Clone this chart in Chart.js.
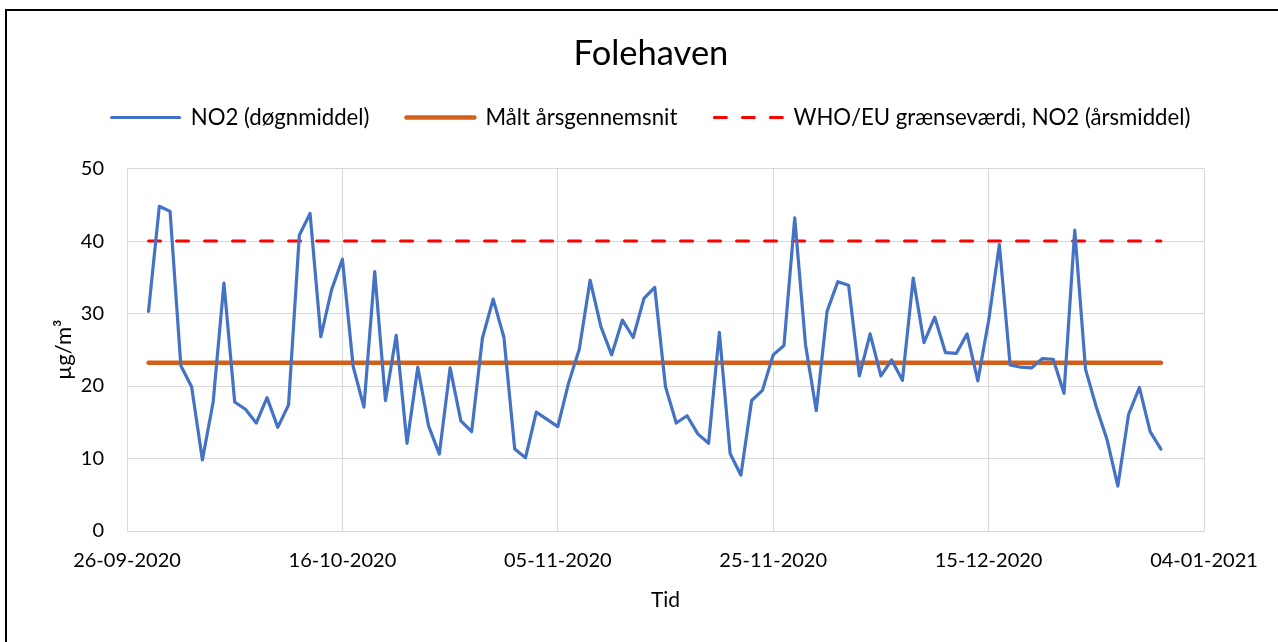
<!DOCTYPE html>
<html>
<head>
<meta charset="utf-8">
<title>Folehaven</title>
<script src="https://cdn.jsdelivr.net/npm/chart.js@4.4.1/dist/chart.umd.min.js"></script>
<style>
  html, body { margin: 0; padding: 0; background: #fff; overflow: hidden; }
  #wrap { position: relative; width: 1278px; height: 642px; }
  #frame {
    position: absolute; left: 5px; top: 9px; width: 1300px; height: 700px;
    border-left: 2px solid #000; border-top: 2px solid #000; pointer-events: none;
  }
</style>
</head>
<body>
<div id="wrap">
  <canvas id="no2Chart" width="1278" height="642"></canvas>
  <div id="frame"></div>
</div>
<script>
// x axis: one category per day, 26-09-2020 .. 04-01-2021, labelled every 20th day
const firstDay = [2020, 8, 26];
const dayCount = 101;
const tickStep = 20;

// daily NO2 means, 28-09-2020 .. 31-12-2020 (µg/m3)
const firstMeasured = 2;
const no2Daily = [
  30.3, 44.8, 44.1, 22.8, 19.9, 9.8, 17.8, 34.2, 17.8, 16.8,
  14.9, 18.4, 14.3, 17.4, 40.8, 43.8, 26.8, 33.3, 37.5, 22.7,
  17.1, 35.8, 18.0, 27.0, 12.1, 22.6, 14.5, 10.6, 22.5, 15.2,
  13.7, 26.6, 32.0, 26.7, 11.3, 10.1, 16.4, 15.4, 14.4, 20.4,
  25.1, 34.6, 28.2, 24.3, 29.1, 26.7, 32.1, 33.6, 19.9, 14.9,
  15.9, 13.4, 12.1, 27.4, 10.7, 7.7, 18.0, 19.4, 24.3, 25.6,
  43.2, 25.7, 16.6, 30.3, 34.4, 33.9, 21.4, 27.2, 21.4, 23.6,
  20.8, 34.9, 26.0, 29.5, 24.6, 24.5, 27.2, 20.7, 29.0, 39.5,
  22.9, 22.6, 22.5, 23.8, 23.7, 19.0, 41.5, 22.3, 17.1, 12.6,
  6.2, 16.1, 19.8, 13.7, 11.3
];
const yearMean = 23.2;
const whoLimit = 40;

const yMin = 0;
const yMax = 50;
const yStep = 10;

function dayLabel(i) {
  const d = new Date(firstDay[0], firstDay[1], firstDay[2] + i);
  const dd = String(d.getDate()).padStart(2, '0');
  const mm = String(d.getMonth() + 1).padStart(2, '0');
  return dd + '-' + mm + '-' + d.getFullYear();
}

const categories = Array.from({ length: dayCount }, (_, i) => dayLabel(i));
const no2Series = categories.map((_, i) => {
  const k = i - firstMeasured;
  return k >= 0 && k < no2Daily.length ? no2Daily[k] : null;
});
const meanSeries = no2Series.map(v => v === null ? null : yearMean);
const whoSeries = no2Series.map(v => v === null ? null : whoLimit);

Chart.defaults.font.family = 'Lato, "Open Sans", sans-serif';
Chart.defaults.color = '#000';

// leave room between the legend and the plot
const legendGap = {
  id: 'legendGap',
  beforeInit(chart) {
    const fit = chart.legend.fit;
    chart.legend.fit = function () {
      fit.bind(chart.legend)();
      this.height += 30;
    };
  }
};

// keep the dash pattern of each line in its legend sample
function legendLabels(chart) {
  return Chart.defaults.plugins.legend.labels.generateLabels(chart).map(item => {
    const ds = chart.data.datasets[item.datasetIndex];
    item.lineDash = ds.borderDash || [];
    item.lineCap = ds.borderCapStyle || 'butt';
    item.lineWidth = ds.borderWidth;
    return item;
  });
}

const ctx = document.getElementById('no2Chart').getContext('2d');
new Chart(ctx, {
  type: 'line',
  data: {
    labels: categories,
    datasets: [
      {
        label: 'NO2 (døgnmiddel)',
        data: no2Series,
        borderColor: '#4472C4',
        backgroundColor: '#4472C4',
        borderWidth: 3.2,
        borderCapStyle: 'round',
        borderJoinStyle: 'round',
        pointRadius: 0,
        tension: 0
      },
      {
        label: 'Målt årsgennemsnit',
        data: meanSeries,
        borderColor: '#D2601A',
        backgroundColor: '#D2601A',
        borderWidth: 4.5,
        borderCapStyle: 'round',
        pointRadius: 0
      },
      {
        label: 'WHO/EU grænseværdi, NO2 (årsmiddel)',
        data: whoSeries,
        borderColor: '#FF0000',
        backgroundColor: '#FF0000',
        borderWidth: 3,
        borderDash: [12, 16],
        borderCapStyle: 'round',
        pointRadius: 0
      }
    ]
  },
  options: {
    responsive: false,
    animation: false,
    layout: { padding: { left: 24, right: 0, top: 0, bottom: 0 } },
    plugins: {
      title: {
        display: true,
        text: 'Folehaven',
        color: '#000',
        font: { size: 34.5, weight: 'normal' },
        padding: { top: 33, bottom: -5 }
      },
      legend: {
        position: 'top',
        align: 'center',
        labels: {
          usePointStyle: true,
          pointStyle: 'line',
          pointStyleWidth: 68,
          padding: 37,
          color: '#000',
          font: { size: 22.2 },
          generateLabels: legendLabels
        }
      },
      tooltip: { enabled: false }
    },
    scales: {
      x: {
        type: 'category',
        offset: false,
        grid: {
          drawTicks: false,
          color: c => c.index % tickStep === 0 ? '#d9d9d9' : 'rgba(0,0,0,0)'
        },
        border: { color: '#d9d9d9' },
        ticks: {
          autoSkip: false,
          maxRotation: 0,
          minRotation: 0,
          padding: 18,
          font: { size: 20 },
          callback: function (val, i) {
            return i % tickStep === 0 ? this.getLabelForValue(val) : '';
          }
        },
        title: {
          display: true,
          text: 'Tid',
          font: { size: 21 },
          padding: { top: 0, bottom: 29 }
        },
        afterFit: s => { s.height = 111; s.paddingRight = 74; }
      },
      y: {
        min: yMin,
        max: yMax,
        grid: { drawTicks: false, color: '#d9d9d9' },
        border: { color: '#d9d9d9' },
        ticks: { stepSize: yStep, padding: 23, font: { size: 20 } },
        title: {
          display: true,
          text: 'µg/m³',
          font: { size: 22 },
          padding: { top: 27, bottom: 0 }
        },
        afterFit: s => { s.width = 103; }
      }
    }
  },
  plugins: [legendGap]
});
</script>
</body>
</html>
